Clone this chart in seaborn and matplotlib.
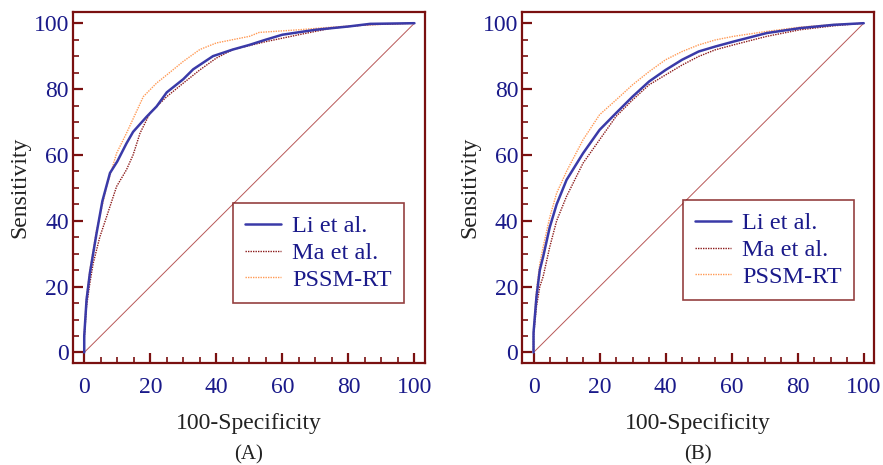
import matplotlib
matplotlib.use("Agg")
import matplotlib.pyplot as plt
import seaborn as sns
import numpy as np
import pandas as pd
from matplotlib.ticker import MultipleLocator
from matplotlib.lines import Line2D

# ---------------- data ----------------
series_names = ["Li et al.", "Ma et al.", "PSSM-RT"]

# Panel A
a_li_fpr = [0, 0, 0.7, 1.7, 2.7, 3.7, 5.5, 7.8, 10, 12.8, 14.8, 18.9, 21.9, 25, 30, 33, 39, 45, 50, 55, 60, 70, 80, 86.6, 100]
a_li_tpr = [0, 5, 16, 24, 30, 36, 46, 54.5, 58, 63.5, 67, 71.6, 74.7, 79.0, 83.0, 86.0, 90, 92, 93.4, 95, 96.5, 98, 99, 99.8, 100]
a_ma_fpr = [0, 0, 0.7, 1.7, 2.7, 4.7, 6.8, 9.8, 12.8, 14.8, 16.9, 19.9, 25, 30, 35, 40, 45, 55, 65, 75, 85.5, 100]
a_ma_tpr = [0, 4, 14, 21, 27, 35, 41.3, 50.4, 55.5, 60, 66.6, 72.7, 77.7, 81.8, 85.8, 89.4, 92, 94.4, 96.5, 98.5, 99.5, 100]
a_ps_fpr = [0, 0, 0.7, 1.7, 2.7, 3.7, 6.8, 9.8, 12.8, 17.9, 21.9, 25, 30, 35, 40, 45, 50, 53, 65, 75, 85.5, 100]
a_ps_tpr = [0, 6, 17, 25, 31, 37, 50.4, 60.5, 66.6, 77.7, 81.8, 84.3, 88.4, 92, 94, 95, 96, 97.2, 98, 98.8, 99.5, 100]

# Panel B
b_li_fpr = [0, 0, 0.9, 1.9, 2.9, 4.9, 7, 10, 15, 20, 25, 30, 35, 40, 45, 50, 55, 60.5, 70.6, 80.7, 90.8, 100]
b_li_tpr = [0, 6, 17, 25, 29, 38, 45, 52.4, 60.5, 67.6, 72.7, 77.7, 82.3, 85.8, 88.9, 91.4, 92.9, 94.4, 97, 98.5, 99.5, 100]
b_ma_fpr = [0, 0, 0.9, 1.9, 2.9, 4.9, 7, 10, 15, 20, 25, 30, 35, 40, 45, 50, 55, 60.5, 70.6, 80.7, 90.8, 100]
b_ma_tpr = [0, 5, 14, 20, 23, 32, 40, 47.4, 57.5, 64.6, 71.7, 76.7, 81.3, 84.3, 87.3, 89.9, 91.9, 93.4, 96, 98, 99.2, 100]
b_ps_fpr = [0, 0, 0.9, 1.9, 2.9, 4.9, 7, 10, 15, 20, 25, 30, 35, 40, 45, 50, 55, 60.5, 70.6, 80.7, 90.8, 100]
b_ps_tpr = [0, 7, 19, 27, 32, 41, 48.4, 55, 64.6, 72.2, 76.7, 81.3, 85.3, 88.9, 91.4, 93.4, 94.9, 96, 97.5, 98.8, 99.6, 100]

diag = [0, 100]
tick_values = [0, 20, 40, 60, 80, 100]
panel_labels = ["(A)", "(B)"]
x_label = "100-Specificity"
y_label = "Sensitivity"

# ---------------- style ----------------
sns.set_style("white")
plt.rcParams["font.family"] = ["Liberation Serif", "DejaVu Serif"]

frame_col = "#7a1010"
tick_lab_col = "#1a1a8a"
colors = ["#3a3aa8", "#8b1a1a", "#ff9a55"]
lstyles = ["-", (0, (1, 0.8)), (0, (1, 0.8))]
lwidths = [1.8, 1.0, 1.0]

fig = plt.figure(figsize=(8.83, 4.65), dpi=100)
ax_a = fig.add_axes([73/883, 102/465, 352/883, 351/465])
ax_b = fig.add_axes([522.3/883, 102/465, 352/883, 351/465])

panels = [
    (ax_a, [(a_li_fpr, a_li_tpr), (a_ma_fpr, a_ma_tpr), (a_ps_fpr, a_ps_tpr)], (232.7, 203)),
    (ax_b, [(b_li_fpr, b_li_tpr), (b_ma_fpr, b_ma_tpr), (b_ps_fpr, b_ps_tpr)], (682.7, 200)),
]

for idx, (ax, curves, legpos) in enumerate(panels):
    sns.lineplot(x=diag, y=diag, ax=ax, color="#b85858", lw=0.7, estimator=None, sort=False)
    for k in [2, 1, 0]:
        fx, ty = curves[k]
        df = pd.DataFrame({"fpr": fx, "tpr": ty})
        sns.lineplot(data=df, x="fpr", y="tpr", ax=ax, color=colors[k], lw=lwidths[k],
                     linestyle=lstyles[k], estimator=None, sort=False)
    ax.set_xlim(-3.4, 103.2)
    ax.set_ylim(-3.2, 103.4)
    ax.set_xticks(tick_values)
    ax.set_yticks(tick_values)
    ax.xaxis.set_minor_locator(MultipleLocator(5))
    ax.yaxis.set_minor_locator(MultipleLocator(5))
    ax.tick_params(axis="both", which="major", direction="in", length=7, width=1.6,
                   color=frame_col, labelcolor=tick_lab_col, labelsize=17)
    ax.tick_params(axis="both", which="minor", direction="in", length=4.2, width=1.2,
                   color=frame_col)
    ax.tick_params(axis="x", which="both", bottom=True, top=False, pad=10)
    ax.tick_params(axis="y", which="both", left=True, right=False, pad=3)
    for sp in ax.spines.values():
        sp.set_color(frame_col)
        sp.set_linewidth(1.6)
    ax.set_xlabel(x_label, fontsize=17, color="#222222", labelpad=11)
    ax.set_ylabel(y_label, fontsize=17, color="#222222", labelpad=2)
    ax.grid(False)
    handles = [Line2D([], [], color=colors[k], lw=lwidths[k], linestyle=lstyles[k]) for k in range(3)]
    lx, ly = legpos
    leg = ax.legend(handles, series_names, loc="upper left",
                    frameon=True, fontsize=17.5,
                    handlelength=1.5, handletextpad=0.45, labelspacing=0.2,
                    borderpad=0.5, borderaxespad=0, fancybox=False, labelcolor=tick_lab_col)
    leg.get_frame().set_edgecolor(frame_col)
    leg.get_frame().set_linewidth(1.2)
    leg.set_bbox_to_anchor((lx / 883, 1 - ly / 465), transform=fig.transFigure)
    pos = ax.get_position()
    fig.text((pos.x0 + pos.x1) / 2, 10 / 465, panel_labels[idx],
             ha="center", va="center", fontsize=15, color="#222222")

fig.savefig("out.png", dpi=100)
